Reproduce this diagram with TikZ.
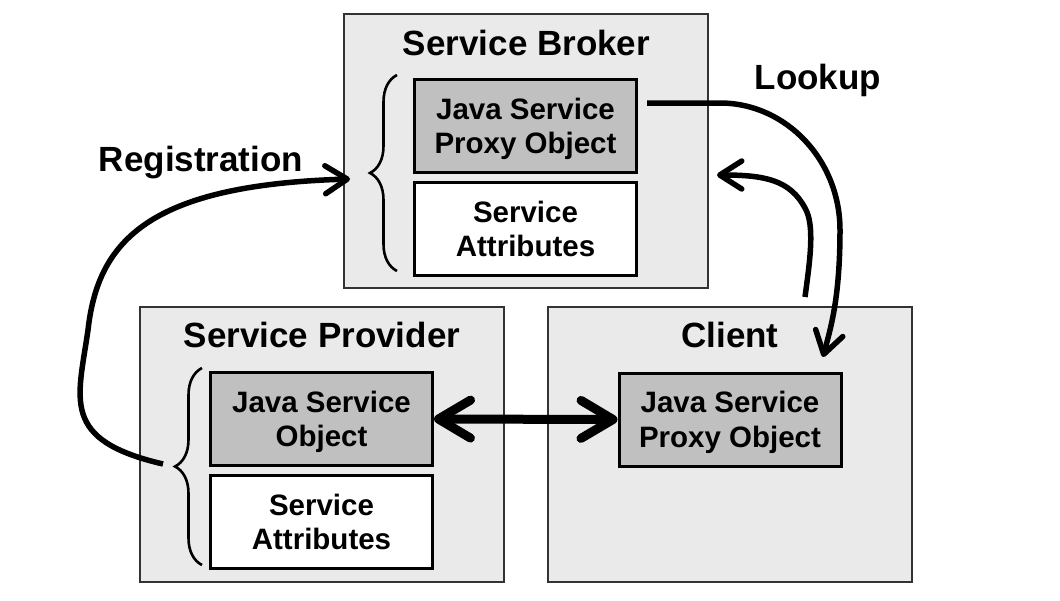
\documentclass[tikz,border=0pt]{standalone}
\usepackage{fontspec}
\setmainfont{Liberation Sans}
\usetikzlibrary{arrows.meta,decorations.pathreplacing}
\definecolor{outerfill}{HTML}{EAEAEA}
\definecolor{innerfill}{HTML}{C0C0C0}
\begin{document}
\begin{tikzpicture}[x=1pt,y=-1pt,
  outerbox/.style={draw=black!80,line width=1.5pt,fill=outerfill,minimum width=364pt,minimum height=275pt,inner sep=0pt},
  innerbox/.style={draw=black,line width=3pt,minimum width=222pt,minimum height=93pt,inner sep=0pt,align=center,
    text depth=0pt,font=\fontsize{29.5}{34.5}\selectfont\bfseries},
  graybox/.style={innerbox,fill=innerfill},
  whitebox/.style={innerbox,fill=white},
  titletext/.style={anchor=base,font=\fontsize{35}{40}\selectfont\bfseries,inner sep=0pt},
  bracestyle/.style={line width=2.6pt,decorate,decoration={brace,amplitude=27pt}},
  arr/.style={line width=5.5pt,-{Straight Barb[length=22pt,width=28pt,round]}},
  dblarr/.style={line width=9pt,{Straight Barb[length=32pt,width=38pt,round]}-{Straight Barb[length=32pt,width=38pt,round]}}]
\useasboundingbox (0,0) rectangle (1060,600);
\fill[white] (0,0) rectangle (1060,600);

% outer boxes
\node[outerbox,minimum height=274pt] (broker) at (526,151) {};
\node[outerbox] (provider) at (322,444.5) {};
\node[outerbox] (client) at (730,444.5) {};

% titles
\node[titletext] (brokerT) at (526.5,55) {Service Broker};
\node[titletext] (providerT) at (322,347) {Service Provider};
\node[titletext] (clientT) at (730,347) {Client};
\node[titletext] (regT) at (201,171) {Registration};
\node[titletext] (lookT) at (818,89) {Lookup};

% inner boxes
\node[graybox] (bproxy) at (525.5,126) {Java Service\\Proxy Object};
\node[whitebox] (battr) at (525.5,229) {Service\\Attributes};
\node[graybox] (pobj) at (321.5,419) {Java Service\\Object};
\node[whitebox] (pattr) at (321.5,522) {Service\\Attributes};
\node[graybox] (cproxy) at (730,419.5) {Java Service\\Proxy Object};

% braces
\coordinate (bbB) at (397,271);
\coordinate (bbT) at (397,75);
\coordinate (pbB) at (202,565);
\coordinate (pbT) at (202,368);
\draw[bracestyle] (bbB) -- (bbT);
\draw[bracestyle] (pbB) -- (pbT);

% connectors
\coordinate (regS) at (163,464);
\coordinate (regE) at (350,179);
\draw[arr] (regS) .. controls (60,440) and (78,400) .. (88,330)
  .. controls (98,240) and (150,185) .. (regE);

\coordinate (lkS) at (647,103);
\coordinate (lkE) at (823,357);
\draw[arr] (lkS) -- (720,103) .. controls (786,103) and (840,160) .. (840,230)
  .. controls (840,300) and (830,330) .. (lkE);

\coordinate (ckS) at (805,297);
\coordinate (ckE) at (717,175);
\draw[arr] (ckS) .. controls (810,260) and (815,225) .. (805,208)
  .. controls (790,180) and (765,175) .. (ckE);

\draw[dblarr] (pobj.east) -- (cproxy.west);
\end{tikzpicture}
\end{document}
